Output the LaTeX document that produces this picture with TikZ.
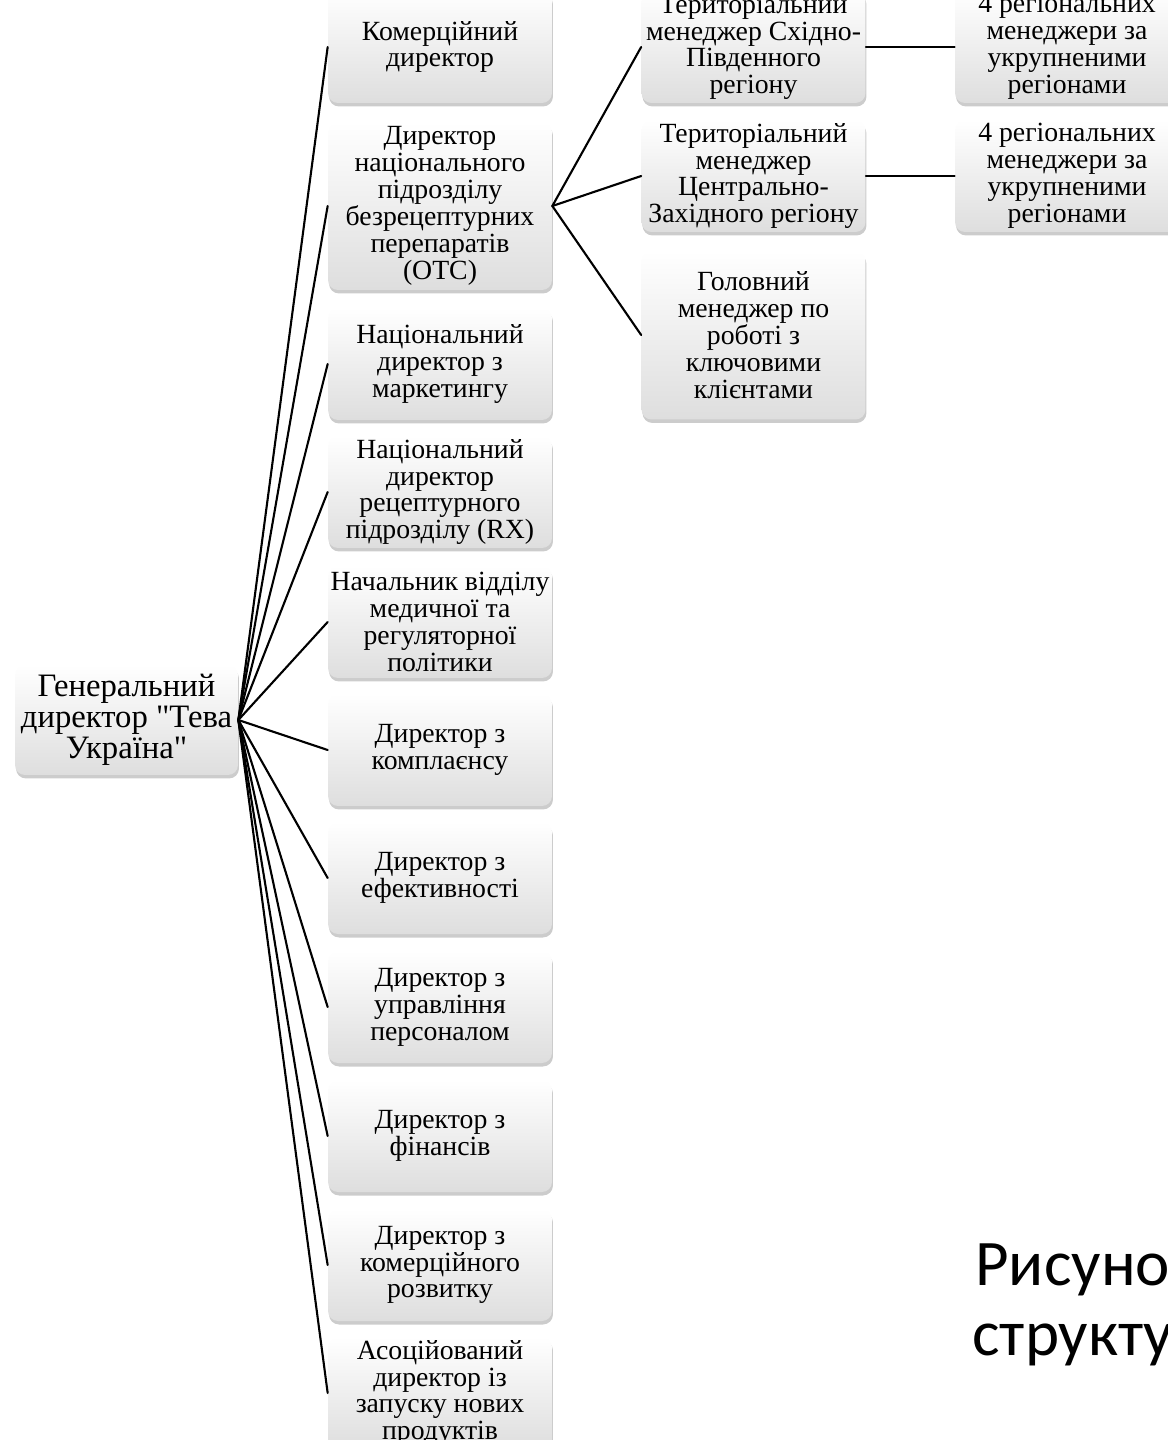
\documentclass[tikz,border=0pt]{standalone}
\usepackage{fontspec}
\setmainfont{Liberation Serif}[Ligatures=TeXOff]
\newfontfamily\capfont{Carlito}
\usetikzlibrary{shadows}
\tikzset{
  post/.style={rounded corners=0.2cm, top color=white, bottom color=black!13,
    drop shadow={opacity=0.4, shadow xshift=0.02cm, shadow yshift=-0.07cm},
    minimum width=4.48cm, minimum height=2.24cm, inner xsep=0.04cm, inner ysep=0pt,
    align=center, font=\fontsize{15.8}{15.3}\selectfont},
  tallpost/.style={post, minimum height=3.38cm},
  link/.style={line width=1.2pt},
}
\begin{document}
\begin{tikzpicture}[x=0.02cm, y=-0.02cm, line join=round, line cap=round]
	\useasboundingbox (0,0) rectangle (1168,1440);
	\clip (0,0) rectangle (1168,1440);
	% head
	\node[post, minimum width=4.46cm, minimum height=2.2cm, font=\fontsize{18.6}{17.8}\selectfont] (G) at (126.5,720) {Генеральний\\директор "Тева\\Україна"};
	% first level
	\node[post] (K) at (440,47) {Комерційний\\директор};
	\node[tallpost, minimum height=3.36cm] (OTC) at (440,206) {Директор\\національного\\підрозділу\\безрецептурних\\перепаратів\\(OTC)};
	\node[post] (M) at (440,364) {Національний\\директор з\\маркетингу};
	\node[post] (RX) at (440,492) {Національний\\директор\\рецептурного\\підрозділу (RX)};
	\node[post] (N) at (440,622) {Начальник відділу\\медичної та\\регуляторної\\політики};
	\node[post] (C) at (440,750) {Директор з\\комплаєнсу};
	\node[post] (E) at (440,878) {Директор з\\ефективності};
	\node[post] (P) at (440,1007) {Директор з\\управління\\персоналом};
	\node[post] (F) at (440,1136) {Директор з\\фінансів};
	\node[post] (R) at (440,1265) {Директор з\\комерційного\\розвитку};
	\node[post] (A) at (440,1393) {Асоційований\\директор із\\запуску нових\\продуктів};
	% OTC branch
	\node[post] (T1) at (753.5,47) {Територіальний\\менеджер Східно-\\Південного\\регіону};
	\node[post] (T2) at (753.5,176) {Територіальний\\менеджер\\Центрально-\\Західного регіону};
	\node[tallpost] (H) at (753.5,335) {Головний\\менеджер по\\роботі з\\ключовими\\клієнтами};
	\node[post] (R1) at (1067,47) {4 регіональних\\менеджери за\\укрупненими\\регіонами};
	\node[post] (R2) at (1067,176) {4 регіональних\\менеджери за\\укрупненими\\регіонами};
	% lines
	\foreach \n in {K,OTC,M,RX,N,C,E,P,F,R,A}
		\draw[link] (G.east) -- (\n.west);
	\foreach \n in {T1,T2,H}
		\draw[link] (OTC.east) -- (\n.west);
	\draw[link] (T1.east) -- (R1.west);
	\draw[link] (T2.east) -- (R2.west);
	% caption
	\node[anchor=base west, inner sep=0pt, font=\capfont\fontsize{37}{40}\selectfont] (cap1) at (975,1285) {Рисунок};
	\node[anchor=base west, inner sep=0pt, font=\capfont\fontsize{37}{40}\selectfont] (cap2) at (972,1355) {структу};
\end{tikzpicture}
\end{document}
